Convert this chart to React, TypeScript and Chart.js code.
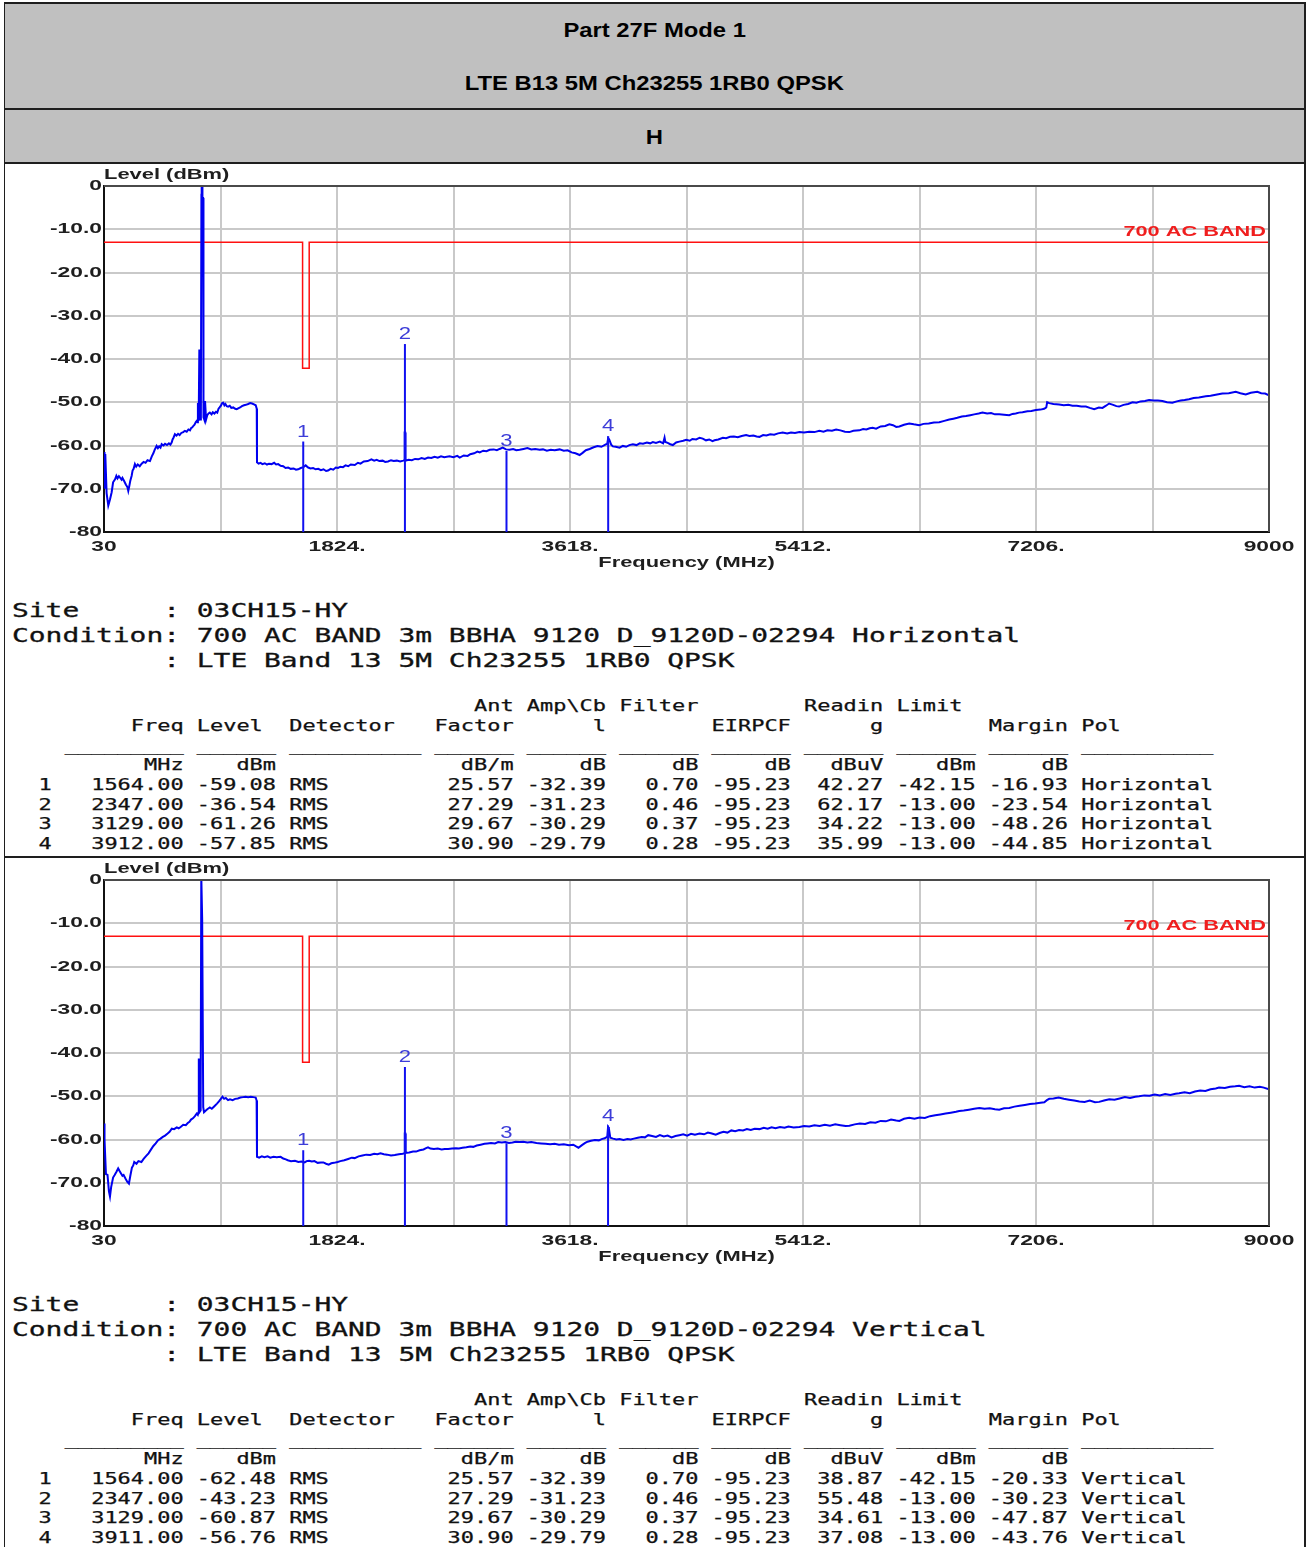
import React, { useEffect, useRef } from "react";
import { Chart, registerables } from "chart.js";

Chart.register(...registerables);

// ---------- Data ----------
const X_GRID = [30, 927, 1824, 2721, 3618, 4515, 5412, 6309, 7206, 8103, 9000];
const X_LABEL_VALUES = [30, 1824, 3618, 5412, 7206, 9000];
const X_TICK_LABELS = ["30", "1824.", "3618.", "5412.", "7206.", "9000"];
const Y_TICKS = [0, -10, -20, -30, -40, -50, -60, -70, -80];
const Y_TICK_LABELS = ["0", "-10.0", "-20.0", "-30.0", "-40.0", "-50.0", "-60.0", "-70.0", "-80"];

const LIMIT_NAME = "700 AC BAND";
const LIMIT_LINE = [[30, -13], [1559, -13], [1559, -42.15], [1610, -42.15], [1610, -13], [9000, -13]];

const MARKER_FREQ_H = [1564.0, 2347.0, 3129.0, 3912.0];
const MARKER_LEVEL_H = [-59.08, -36.54, -61.26, -57.85];
const READING_H = [42.27, 62.17, 34.22, 35.99];
const MARGIN_H = [-16.93, -23.54, -48.26, -44.85];

const MARKER_FREQ_V = [1564.0, 2347.0, 3129.0, 3911.0];
const MARKER_LEVEL_V = [-62.48, -43.23, -60.87, -56.76];
const READING_V = [38.87, 55.48, 34.61, 37.08];
const MARGIN_V = [-20.33, -30.23, -47.87, -43.76];

const ANT_FACTOR = [25.57, 27.29, 29.67, 30.9];
const AMP_CBL = [-32.39, -31.23, -30.29, -29.79];
const FILTER = [0.7, 0.46, 0.37, 0.28];
const EIRPCF = [-95.23, -95.23, -95.23, -95.23];
const LIMIT = [-42.15, -13.0, -13.0, -13.0];

const TRACE_H = [
  [30,-61.5],[34,-70],[40,-62],[50,-71],[63,-73.9],[76,-72.5],[89,-70.8],[100,-68.5],[115,-67.8],[125,-67],[134,-67.6],[145,-67.1],[153,-67.4],[165,-67.9],[172,-67.5],[185,-68.2],[198,-69],[210,-69.6],[217,-70.5],[224,-69.5],[232,-68.2],[243,-67],[250,-65.8],[258,-65.4],[268,-64.3],[278,-64.9],[290,-64.4],[305,-64.8],[320,-64.2],[335,-63.8],[350,-64],[365,-63.4],[384,-63.6],[398,-62.5],[410,-61.8],[420,-61],[435,-60.1],[445,-60.6],[455,-60.2],[465,-60.5],[474,-59.7],[488,-60],[500,-59.6],[515,-59.9],[530,-59.5],[541,-59.8],[551,-59.3],[558,-58.6],[565,-58.2],[576,-57.4],[588,-57.7],[600,-57.3],[612,-57.6],[625,-57.1],[640,-56.9],[653,-56.6],[667,-56.8],[680,-56.3],[692,-56.5],[700,-56],[710,-55.8],[717,-55.5],[727,-55.2],[737,-54.6],[745,-54.3],[750,-54.6],[753,-50.4],[756,-50.4],[759,-54.3],[764,-37.8],[768,-37.8],[771,-54],[776,-53.8],[780,-2],[782,1],[785,1],[788,-2.8],[793,-2.8],[796,-53.5],[802,-54],[808,-49.7],[812,-49.7],[816,-54],[825,-53],[835,-52.6],[845,-52.4],[858,-52.8],[868,-52.3],[880,-52.6],[892,-52.2],[902,-52.4],[912,-51.5],[920,-51.2],[930,-50.8],[940,-50.2],[948,-50.1],[957,-50.7],[965,-50.4],[975,-50.9],[986,-51],[998,-50.8],[1010,-51.3],[1025,-51.2],[1040,-51.5],[1052,-51.6],[1063,-51.4],[1078,-51.2],[1092,-50.9],[1108,-50.7],[1122,-50.6],[1140,-50.4],[1155,-50.2],[1170,-50.3],[1185,-50.5],[1198,-50.7],[1206,-51.5],[1208,-63.9],[1220,-64.2],[1235,-64],[1250,-64.3],[1268,-64.1],[1285,-64.4],[1300,-64.2],[1320,-64.3],[1340,-64],[1355,-64.4],[1371,-64.3],[1390,-64.7],[1410,-64.8],[1428,-65.2],[1448,-65.1],[1468,-65.4],[1490,-65.3],[1508,-65.6],[1525,-65.5],[1545,-65.2],[1565,-65],[1583,-64.6],[1602,-65.1],[1620,-65.3],[1640,-65.2],[1660,-65.5],[1680,-65.4],[1700,-65.7],[1720,-65.5],[1740,-65.9],[1755,-65.8],[1775,-65.4],[1795,-65.6],[1815,-65.1],[1832,-65.2],[1850,-64.9],[1870,-65],[1890,-64.6],[1910,-64.8],[1930,-64.4],[1961,-64.5],[1985,-64],[2005,-64.2],[2030,-63.7],[2060,-63.6],[2089,-63.2],[2110,-63.5],[2130,-63.3],[2150,-63.6],[2175,-63.5],[2195,-63.8],[2217,-63.7],[2240,-63.4],[2260,-63.6],[2285,-63.5],[2310,-63.7],[2335,-63.5],[2343,-63.4],[2345,-57],[2349,-57],[2352,-63.5],[2375,-63.3],[2400,-63.4],[2425,-63.1],[2450,-63.2],[2475,-62.9],[2500,-63.1],[2525,-62.8],[2550,-62.9],[2575,-62.6],[2600,-62.8],[2625,-62.5],[2650,-62.7],[2690,-62.5],[2720,-62.7],[2750,-62.4],[2769,-62.8],[2800,-62.3],[2830,-62.4],[2850,-62],[2880,-61.8],[2905,-61.4],[2923,-61.6],[2950,-61.2],[2975,-61.3],[3000,-61],[3030,-60.9],[3055,-61.1],[3076,-60.8],[3100,-60.5],[3125,-60.9],[3153,-61],[3180,-60.8],[3205,-61.1],[3230,-61],[3260,-60.8],[3290,-60.6],[3320,-60.9],[3350,-60.8],[3384,-61],[3410,-60.9],[3440,-61.2],[3470,-61],[3500,-61.1],[3538,-60.9],[3570,-61.2],[3600,-61.1],[3630,-61.6],[3660,-61.8],[3692,-62.2],[3715,-61.7],[3740,-61.1],[3769,-60.8],[3800,-60.4],[3830,-60.1],[3860,-60.3],[3890,-59.8],[3905,-59.6],[3912,-58.3],[3920,-58.6],[3935,-59.8],[3948,-60.2],[3970,-60.3],[4000,-60.5],[4025,-60.1],[4050,-60.3],[4075,-59.9],[4102,-59.7],[4130,-59.9],[4155,-59.5],[4180,-59.6],[4210,-59.3],[4235,-59.5],[4256,-59.2],[4280,-59.4],[4310,-59.1],[4335,-59.5],[4346,-58.2],[4352,-59.2],[4370,-59.4],[4390,-59.7],[4410,-59.9],[4435,-59.3],[4460,-59.1],[4490,-58.9],[4513,-58.7],[4540,-58.9],[4560,-58.5],[4590,-58.6],[4616,-58.2],[4640,-58.4],[4665,-58.8],[4690,-58.6],[4715,-59],[4731,-58.8],[4760,-58.6],[4795,-58.2],[4820,-58.3],[4850,-58],[4880,-57.9],[4910,-58.1],[4940,-57.8],[4974,-57.6],[5000,-57.8],[5030,-57.7],[5055,-57.9],[5077,-58],[5105,-57.6],[5130,-57.7],[5160,-57.4],[5190,-57.5],[5220,-57.2],[5256,-57],[5290,-57.2],[5320,-57],[5350,-57.1],[5384,-56.9],[5420,-57],[5460,-56.8],[5500,-56.9],[5538,-56.6],[5570,-56.8],[5600,-56.5],[5635,-56.6],[5667,-56.3],[5700,-56.5],[5735,-56.8],[5769,-56.9],[5800,-56.6],[5846,-56.5],[5875,-56.2],[5900,-56.3],[5925,-56],[5948,-55.9],[5975,-56.1],[6010,-55.6],[6045,-55.5],[6077,-55.1],[6105,-55.3],[6130,-55.7],[6154,-55.6],[6190,-55.2],[6230,-54.9],[6265,-55.1],[6307,-55.3],[6340,-55],[6380,-54.9],[6420,-54.7],[6461,-54.6],[6500,-54.3],[6538,-54],[6570,-53.8],[6600,-53.6],[6635,-53.3],[6667,-53.2],[6700,-53],[6730,-52.8],[6765,-52.6],[6794,-52.4],[6830,-52.6],[6860,-52.5],[6890,-52.8],[6923,-52.8],[6960,-52.9],[7000,-53],[7025,-52.7],[7050,-52.6],[7075,-52.4],[7102,-52.3],[7140,-52.1],[7170,-52],[7205,-51.8],[7240,-51.7],[7269,-51.5],[7285,-51.2],[7292,-50],[7308,-50.2],[7340,-50.4],[7384,-50.5],[7420,-50.7],[7455,-50.6],[7487,-50.8],[7520,-50.8],[7555,-51],[7590,-51],[7620,-51.3],[7654,-51.6],[7690,-51.2],[7718,-51.3],[7745,-50.8],[7769,-50.3],[7800,-50.6],[7825,-50.9],[7846,-51],[7880,-50.6],[7915,-50.4],[7949,-50],[7980,-50.1],[8010,-49.8],[8045,-49.7],[8077,-49.5],[8110,-49.6],[8145,-49.6],[8179,-49.7],[8215,-50],[8256,-50.1],[8290,-49.8],[8320,-49.6],[8350,-49.5],[8384,-49.3],[8420,-49],[8460,-48.9],[8513,-48.6],[8550,-48.5],[8600,-48.2],[8641,-48],[8690,-47.9],[8744,-47.6],[8780,-47.9],[8821,-48.2],[8860,-47.8],[8910,-47.6],[8940,-47.9],[8970,-48],[9000,-48.4]
];

const TRACE_V = [
  [30,-56.3],[34,-60],[45,-68],[57,-68.2],[68,-72],[76,-73.2],[85,-71],[100,-68.8],[112,-68.2],[125,-67.5],[139,-66.7],[150,-67.3],[160,-67.8],[172,-68.4],[181,-68.2],[195,-69],[210,-69.8],[222,-70.2],[232,-68.5],[245,-66.5],[255,-66],[263,-65.2],[280,-65.6],[295,-65],[318,-65.2],[335,-64.5],[355,-63.8],[373,-63.2],[390,-62.4],[410,-61.5],[428,-60.9],[445,-60.2],[465,-59.8],[483,-59.4],[500,-59.1],[520,-58.6],[535,-58.2],[552,-57.5],[570,-57.6],[590,-57.2],[605,-57.4],[620,-57.1],[640,-56.6],[660,-56.7],[675,-56.2],[688,-55.9],[700,-55.4],[715,-55.1],[730,-54.6],[744,-54],[752,-54.3],[756,-53.8],[760,-41.5],[764,-41.5],[767,-53.6],[774,-53.3],[779,1],[783,1],[786,-9.2],[790,-9.2],[794,-52.5],[800,-53.7],[810,-53.4],[825,-53],[845,-52.6],[860,-52.9],[880,-52.3],[900,-51.7],[915,-51.2],[930,-50.6],[942,-50.1],[955,-50.6],[968,-50.4],[985,-50.9],[1000,-50.7],[1020,-50.9],[1040,-50.6],[1060,-50.5],[1080,-50.3],[1100,-50.2],[1120,-50.1],[1140,-50.2],[1160,-50.1],[1180,-50.2],[1198,-50.3],[1205,-51],[1208,-64],[1225,-64.2],[1245,-63.9],[1265,-64.1],[1290,-63.9],[1310,-64.2],[1335,-64],[1360,-64.1],[1390,-64],[1410,-64.4],[1430,-64.6],[1445,-64.8],[1470,-65],[1500,-64.9],[1527,-65.2],[1550,-65.1],[1575,-65.3],[1590,-65],[1609,-64.9],[1630,-65.1],[1650,-65],[1675,-65.4],[1700,-65.3],[1719,-65.3],[1740,-65.6],[1760,-65.8],[1780,-65.5],[1800,-65.4],[1829,-65.2],[1850,-65],[1880,-64.8],[1910,-64.5],[1938,-64.2],[1960,-64.3],[1990,-63.9],[2020,-63.7],[2049,-63.5],[2080,-63.6],[2110,-63.3],[2135,-63.4],[2159,-63.2],[2185,-63.4],[2210,-63.5],[2240,-63.7],[2269,-63.6],[2300,-63.4],[2330,-63.3],[2344,-63.2],[2346,-58.6],[2350,-58.6],[2353,-63.1],[2380,-63],[2410,-62.8],[2433,-62.8],[2460,-62.5],[2490,-62.3],[2510,-62],[2525,-61.8],[2543,-62.1],[2570,-62.2],[2600,-62.1],[2630,-62.3],[2653,-62.2],[2680,-62.2],[2710,-62.1],[2740,-62],[2763,-62.1],[2790,-61.9],[2820,-61.8],[2850,-61.6],[2873,-61.7],[2900,-61.4],[2930,-61.2],[2960,-61],[2983,-60.9],[3010,-60.8],[3040,-60.9],[3065,-60.6],[3093,-60.7],[3120,-60.6],[3148,-60.8],[3175,-60.7],[3200,-60.5],[3230,-60.6],[3258,-60.5],[3290,-60.7],[3320,-60.6],[3360,-60.8],[3395,-60.9],[3430,-61],[3465,-61.1],[3500,-61],[3533,-61.2],[3570,-61.1],[3610,-61.3],[3643,-61.2],[3665,-61.6],[3683,-61.9],[3710,-61.3],[3735,-60.8],[3753,-60.5],[3780,-60.3],[3810,-60.1],[3840,-60.2],[3862,-59.9],[3885,-59.7],[3905,-59.4],[3911,-57.1],[3917,-57.4],[3928,-59.6],[3950,-59.8],[3975,-60],[4000,-59.9],[4030,-60.1],[4060,-59.9],[4085,-60],[4110,-59.8],[4140,-59.6],[4170,-59.4],[4195,-59.5],[4220,-59],[4250,-59.2],[4280,-59.4],[4310,-59],[4340,-59.3],[4370,-59.1],[4400,-59.5],[4430,-59.2],[4460,-59],[4490,-58.8],[4520,-59.1],[4550,-58.7],[4580,-58.9],[4616,-58.6],[4650,-58.8],[4680,-58.4],[4710,-58.6],[4740,-58.9],[4770,-58.5],[4800,-58.2],[4830,-58.4],[4860,-57.9],[4890,-58.1],[4920,-57.8],[4950,-57.9],[4980,-57.6],[5010,-57.8],[5040,-57.5],[5077,-57.6],[5110,-57.3],[5140,-57.5],[5170,-57.2],[5200,-57.4],[5235,-57.1],[5270,-57.3],[5300,-57],[5340,-57.2],[5384,-57.1],[5420,-56.9],[5460,-57],[5500,-56.7],[5540,-56.9],[5580,-56.6],[5620,-56.8],[5660,-56.5],[5700,-56.7],[5740,-56.9],[5769,-56.8],[5810,-56.5],[5850,-56.3],[5890,-56.4],[5930,-56],[5970,-56.1],[6010,-55.7],[6050,-55.8],[6090,-55.4],[6130,-55.6],[6154,-55.7],[6190,-55.2],[6230,-55],[6270,-55.2],[6310,-54.9],[6350,-55],[6390,-54.6],[6430,-54.4],[6470,-54.2],[6510,-54],[6550,-53.8],[6590,-53.6],[6615,-53.4],[6650,-53.3],[6690,-53.1],[6730,-52.9],[6770,-52.7],[6810,-52.9],[6850,-52.8],[6890,-53],[6923,-53.1],[6960,-52.8],[7000,-52.7],[7040,-52.4],[7080,-52.2],[7120,-52],[7160,-51.8],[7200,-51.7],[7240,-51.5],[7270,-51.4],[7290,-50.9],[7308,-50.6],[7340,-50.5],[7380,-50.3],[7420,-50.6],[7460,-50.8],[7500,-51],[7540,-51.2],[7580,-51.3],[7620,-51],[7660,-51.4],[7692,-51.3],[7730,-51],[7770,-50.7],[7810,-50.8],[7850,-50.5],[7890,-50.2],[7930,-50.4],[7970,-50.1],[8000,-50],[8040,-49.8],[8080,-49.9],[8120,-49.6],[8160,-49.8],[8200,-49.5],[8240,-49.7],[8280,-49.4],[8308,-49.3],[8350,-49.1],[8390,-49.3],[8430,-48.9],[8470,-48.7],[8510,-48.8],[8550,-48.4],[8590,-48.2],[8615,-48],[8660,-48.1],[8700,-47.8],[8740,-47.7],[8770,-47.6],[8810,-47.9],[8850,-47.7],[8890,-48],[8930,-47.8],[8960,-48],[9000,-48.4]
];

// ---------- Helpers ----------
const SX = 1.52;
const FONT = '"Liberation Sans", Arial, Helvetica, sans-serif';

function st(ctx: CanvasRenderingContext2D, t: string, x: number, y: number, sx: number, align: CanvasTextAlign) {
  ctx.save();
  ctx.translate(x, y);
  ctx.scale(sx, 1);
  ctx.textAlign = align;
  ctx.fillText(t, 0, 0);
  ctx.restore();
}

function makeLine(items: [string, number, "l" | "r"][]): string {
  const arr: string[] = new Array(92).fill(" ");
  for (const [t, pos, al] of items) {
    const start = al === "r" ? pos - t.length + 1 : pos;
    for (let i = 0; i < t.length; i++) arr[start + i] = t[i];
  }
  return arr.join("").replace(/\s+$/, "");
}

function underscoreLine(segs: [number, number][]): string {
  const arr: string[] = new Array(92).fill(" ");
  for (const [a, b] of segs) for (let i = a; i <= b; i++) arr[i] = "_";
  return arr.join("").replace(/\s+$/, "");
}

function buildTable(freq: number[], level: number[], reading: number[], margin: number[], pol: string): string {
  const lines: string[] = [];
  lines.push(makeLine([["Ant", 37, "r"], ["Amp\\Cb", 44, "r"], ["Filter", 51, "r"], ["Readin", 65, "r"], ["Limit", 67, "l"]]));
  lines.push(makeLine([["Freq", 12, "r"], ["Level", 14, "l"], ["Detector", 21, "l"], ["Factor", 37, "r"], ["l", 44, "r"], ["EIRPCF", 58, "r"], ["g", 65, "r"], ["Margin", 79, "r"], ["Pol", 81, "l"]]));
  lines.push(underscoreLine([[4, 12], [14, 19], [21, 30], [32, 37], [39, 44], [46, 51], [53, 58], [60, 65], [67, 72], [74, 79], [81, 90]]));
  lines.push(makeLine([["MHz", 12, "r"], ["dBm", 19, "r"], ["dB/m", 37, "r"], ["dB", 44, "r"], ["dB", 51, "r"], ["dB", 58, "r"], ["dBuV", 65, "r"], ["dBm", 72, "r"], ["dB", 79, "r"]]));
  for (let i = 0; i < freq.length; i++) {
    lines.push(makeLine([
      [String(i + 1), 2, "l"],
      [freq[i].toFixed(2), 12, "r"],
      [level[i].toFixed(2), 19, "r"],
      ["RMS", 21, "l"],
      [ANT_FACTOR[i].toFixed(2), 37, "r"],
      [AMP_CBL[i].toFixed(2), 44, "r"],
      [FILTER[i].toFixed(2), 51, "r"],
      [EIRPCF[i].toFixed(2), 58, "r"],
      [reading[i].toFixed(2), 65, "r"],
      [LIMIT[i].toFixed(2), 72, "r"],
      [margin[i].toFixed(2), 79, "r"],
      [pol, 81, "l"],
    ]));
  }
  return lines.join("\n");
}

// ---------- Chart panel ----------
function SpectrumChart({ trace, mFreq, mLevel }: { trace: number[][]; mFreq: number[]; mLevel: number[] }) {
  const ref = useRef<HTMLCanvasElement | null>(null);
  useEffect(() => {
    if (!ref.current) return;
    const textPlugin = {
      id: "emcText",
      afterDraw(chart: any) {
        const { ctx, chartArea: a, scales } = chart;
        const x = scales.x;
        const y = scales.y;
        ctx.save();
        ctx.strokeStyle = "#4a4a4a";
        ctx.lineWidth = 2;
        ctx.beginPath();
        ctx.moveTo(a.left, a.top);
        ctx.lineTo(a.right, a.top);
        ctx.lineTo(a.right, a.bottom);
        ctx.stroke();

        ctx.fillStyle = "#1e1e1e";
        ctx.font = `bold 15px ${FONT}`;
        ctx.textBaseline = "middle";
        Y_TICKS.forEach((v, i) => st(ctx, Y_TICK_LABELS[i], a.left - 2, y.getPixelForValue(v), SX, "right"));
        X_LABEL_VALUES.forEach((v, i) => st(ctx, X_TICK_LABELS[i], x.getPixelForValue(v), a.bottom + 15, SX, "center"));
        st(ctx, "Frequency (MHz)", (a.left + a.right) / 2, a.bottom + 31, 1.46, "center");
        st(ctx, "Level (dBm)", a.left, a.top - 11, 1.46, "left");

        ctx.fillStyle = "#f01e1e";
        st(ctx, LIMIT_NAME, a.right - 3, y.getPixelForValue(-13) - 10, 1.45, "right");

        ctx.font = `17px ${FONT}`;
        ctx.fillStyle = "#3c3cd8";
        ctx.textBaseline = "bottom";
        mFreq.forEach((f, i) => st(ctx, String(i + 1), x.getPixelForValue(f), y.getPixelForValue(mLevel[i]) - 1, 1.3, "center"));
        ctx.restore();
      },
    };

    const markerSets = mFreq.map((f, i) => ({
      data: [{ x: f, y: -80 }, { x: f, y: mLevel[i] }],
      borderColor: "#1010f0",
      borderWidth: 2,
      pointRadius: 0,
      order: 0,
    }));

    const chart = new Chart(ref.current, {
      type: "line",
      data: {
        datasets: [
          ...markerSets,
          {
            data: trace.map((p) => ({ x: p[0], y: p[1] })),
            borderColor: "#0000f0",
            borderWidth: 2,
            pointRadius: 0,
            order: 1,
          },
          {
            data: LIMIT_LINE.map((p) => ({ x: p[0], y: p[1] })),
            borderColor: "#ff1010",
            borderWidth: 1.5,
            pointRadius: 0,
            order: 2,
          },
        ] as any,
      },
      options: {
        animation: false,
        responsive: false,
        maintainAspectRatio: false,
        devicePixelRatio: 1,
        events: [],
        layout: { padding: { top: 22, right: 36, left: 0, bottom: 0 } },
        plugins: { legend: { display: false }, tooltip: { enabled: false }, title: { display: false } },
        scales: {
          x: {
            type: "linear",
            min: 30,
            max: 9000,
            afterBuildTicks: (s: any) => {
              s.ticks = X_GRID.map((v) => ({ value: v }));
            },
            afterFit: (s: any) => {
              s.height = 52;
            },
            grid: { color: "#c9c9c9", lineWidth: 2, drawTicks: false },
            border: { display: true, color: "#111111", width: 2 },
            ticks: { display: false },
          },
          y: {
            type: "linear",
            min: -80,
            max: 0,
            ticks: { display: false, stepSize: 10 },
            afterFit: (s: any) => {
              s.width = 99;
            },
            grid: { color: "#c9c9c9", lineWidth: 2, drawTicks: false },
            border: { display: true, color: "#111111", width: 2 },
          },
        },
      } as any,
      plugins: [textPlugin],
    });
    return () => chart.destroy();
  }, [trace, mFreq, mLevel]);
  return (
    <canvas
      ref={ref}
      width={1300}
      height={420}
      style={{ position: "absolute", left: 0, top: 0, width: 1300, height: 420 }}
    />
  );
}

const MONO = '"DejaVu Sans Mono", "Liberation Mono", monospace';

function Panel({ top, height, trace, mFreq, mLevel, reading, margin, pol, condition }: any) {
  const siteText = [
    "Site     : 03CH15-HY",
    "Condition: " + condition,
    "         : LTE Band 13 5M Ch23255 1RB0 QPSK",
  ].join("\n");
  const table = buildTable(mFreq, mLevel, reading, margin, pol);
  return (
    <div style={{ position: "absolute", left: 5, top, width: 1300, height, overflow: "hidden", background: "#fff" }}>
      <SpectrumChart trace={trace} mFreq={mFreq} mLevel={mLevel} />
      <pre
        style={{
          position: "absolute", left: 7, top: 433.5, margin: 0, fontFamily: MONO, fontSize: 19,
          lineHeight: "25px", color: "#111", transform: "scaleX(1.4688)", transformOrigin: "0 0", whiteSpace: "pre",
          WebkitTextStroke: "0.3px #111",
        }}
      >{siteText}</pre>
      <pre
        style={{
          position: "absolute", left: 7, top: 533.2, margin: 0, fontFamily: MONO, fontSize: 15,
          lineHeight: "19.7px", color: "#111", transform: "scaleX(1.4617)", transformOrigin: "0 0", whiteSpace: "pre",
          WebkitTextStroke: "0.25px #111",
        }}
      >{table}</pre>
    </div>
  );
}

function HeaderText({ text, center }: { text: string; center: number }) {
  return (
    <div style={{ position: "absolute", left: 0, width: "100%", top: center - 12, height: 24, lineHeight: "24px", textAlign: "center" }}>
      <span style={{ display: "inline-block", transform: "scaleX(1.19)", fontFamily: FONT, fontWeight: "bold", fontSize: 20, color: "#000" }}>
        {text}
      </span>
    </div>
  );
}

export default function App() {
  useEffect(() => {
    document.body.style.margin = "0";
  }, []);
  const line = (style: React.CSSProperties) => <div style={{ position: "absolute", background: "#1e1e1e", ...style }} />;
  return (
    <div style={{ position: "absolute", left: 0, top: 0, width: 1306, height: 1547, background: "#fff", overflow: "hidden" }}>
      <div style={{ position: "absolute", left: 5, top: 4, width: 1299, height: 104, background: "#c0c0c0" }}>
        <HeaderText text="Part 27F Mode 1" center={26} />
        <HeaderText text="LTE B13 5M Ch23255 1RB0 QPSK" center={79} />
      </div>
      <div style={{ position: "absolute", left: 5, top: 110, width: 1299, height: 52, background: "#c0c0c0" }}>
        <HeaderText text="H" center={27} />
      </div>
      <Panel top={164} height={692} trace={TRACE_H} mFreq={MARKER_FREQ_H} mLevel={MARKER_LEVEL_H}
        reading={READING_H} margin={MARGIN_H} pol="Horizontal"
        condition="700 AC BAND 3m BBHA 9120 D_9120D-02294 Horizontal" />
      <Panel top={858} height={689} trace={TRACE_V} mFreq={MARKER_FREQ_V} mLevel={MARKER_LEVEL_V}
        reading={READING_V} margin={MARGIN_V} pol="Vertical"
        condition="700 AC BAND 3m BBHA 9120 D_9120D-02294 Vertical" />
      {line({ left: 4, top: 2, width: 1302, height: 2 })}
      {line({ left: 4, top: 108, width: 1302, height: 2 })}
      {line({ left: 4, top: 162, width: 1302, height: 2 })}
      {line({ left: 4, top: 856, width: 1302, height: 2 })}
      {line({ left: 4, top: 2, width: 1, height: 1545 })}
      {line({ left: 1304, top: 2, width: 2, height: 1545 })}
    </div>
  );
}
